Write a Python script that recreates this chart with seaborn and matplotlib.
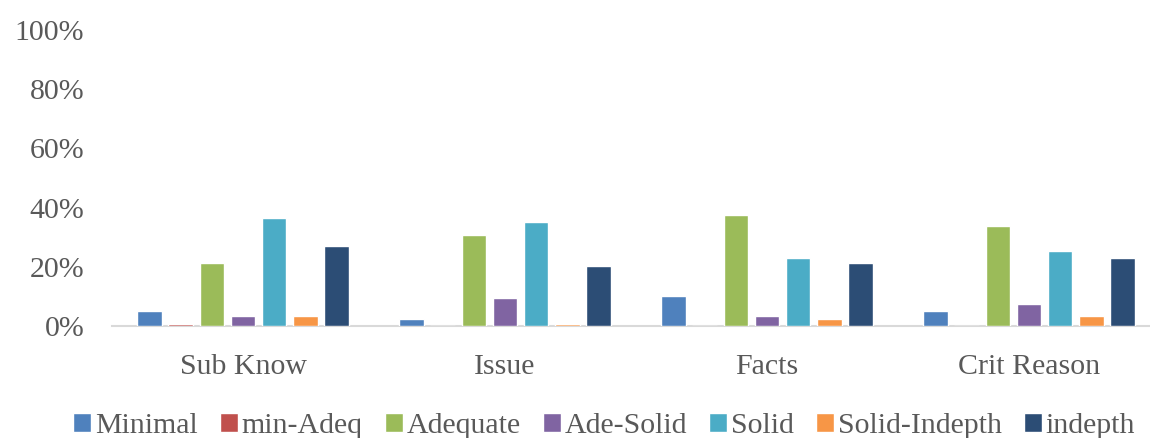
import matplotlib
matplotlib.use("Agg")
import matplotlib.pyplot as plt
import seaborn as sns
import pandas as pd

categories = ["Sub Know", "Issue", "Facts", "Crit Reason"]
levels = ["Minimal", "min-Adeq", "Adequate", "Ade-Solid", "Solid", "Solid-Indepth", "indepth"]
sub_know = [4.9, 0.7, 21.3, 3.3, 36.5, 3.3, 27.0]
issue = [2.3, 0.0, 30.8, 9.3, 35.0, 0.6, 20.3]
facts = [10.3, 0.0, 37.6, 3.3, 23.0, 2.3, 21.3]
crit_reason = [4.9, 0.0, 33.9, 7.6, 25.5, 3.3, 23.0]
colors = ["#4F81BD", "#C0504D", "#9BBB59", "#8064A2", "#4BACC6", "#F79646", "#2C4D75"]
yticks = [0, 20, 40, 60, 80, 100]
ytick_labels = ["0%", "20%", "40%", "60%", "80%", "100%"]

rows = []
for cat, vals in zip(categories, [sub_know, issue, facts, crit_reason]):
    for lvl, v in zip(levels, vals):
        rows.append({"cat": cat, "level": lvl, "value": v})
df = pd.DataFrame(rows)

sns.set_theme(style="white")
plt.rcParams["font.family"] = ["Liberation Serif", "DejaVu Serif"]
txt = "#595959"
fs = 21.5

fig = plt.figure(figsize=(11.5, 4.38), dpi=100)
ax = fig.add_axes([112 / 1150, 112 / 438, 1048 / 1150, 296 / 438])

sns.barplot(data=df, x="cat", y="value", hue="level", order=categories,
            hue_order=levels, palette=colors, width=0.83, gap=0.2,
            saturation=1, ax=ax, legend=True, zorder=3)

ax.set_xlim(-0.5, len(categories) - 0.5)
ax.set_ylim(0, 100)
ax.set_yticks(yticks)
ax.set_yticklabels(ytick_labels)
ax.set_xlabel("")
ax.set_ylabel("")
ax.tick_params(axis="y", length=0, pad=20, labelsize=fs, colors=txt)
ax.tick_params(axis="x", length=0, pad=20, labelsize=fs, colors=txt)
for s in ["top", "right", "left"]:
    ax.spines[s].set_visible(False)
ax.spines["bottom"].set_color("#D9D9D9")
ax.spines["bottom"].set_linewidth(1.5)
ax.spines["bottom"].set_zorder(1)
ax.grid(False)

leg = ax.get_legend()
handles = leg.legend_handles
labels = [t.get_text() for t in leg.get_texts()]
leg.remove()
fig.legend(handles, labels, loc="center", bbox_to_anchor=(604 / 1150, 1 - 426 / 438),
           ncol=7, frameon=False, fontsize=fs, labelcolor=txt,
           handlelength=0.6, handleheight=0.6, handletextpad=0.12,
           columnspacing=0.75, borderpad=0, borderaxespad=0)

fig.savefig("out.png", dpi=100)
